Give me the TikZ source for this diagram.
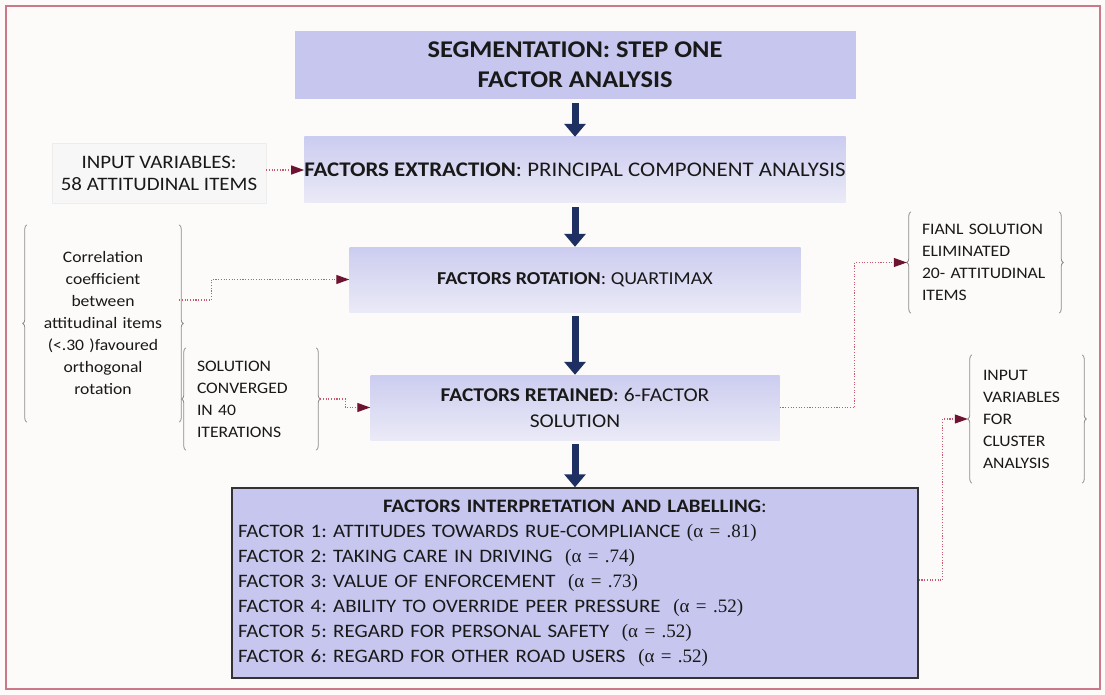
\documentclass[tikz,border=0pt]{standalone}
\usepackage{fontspec}
\setmainfont{Carlito}[FakeStretch=1.1]
\newfontfamily\serifalpha{Liberation Serif}
\usetikzlibrary{arrows.meta,decorations.pathreplacing}

\definecolor{pagebg}{RGB}{252,251,249}
\definecolor{framecol}{RGB}{205,120,135}
\definecolor{lav}{RGB}{198,198,238}
\definecolor{lavtop}{RGB}{204,204,240}
\definecolor{lavbot}{RGB}{234,234,247}
\definecolor{navy}{RGB}{30,48,98}
\definecolor{dotcol}{RGB}{200,90,110}
\definecolor{tipcol}{RGB}{110,20,50}
\definecolor{bracecol}{RGB}{140,140,140}
\definecolor{inkcol}{RGB}{25,25,25}

% Cronbach alpha value in a serif face
\newcommand{\ainfo}[1]{{\serifalpha(α = #1)}}
\frenchspacing

\begin{document}
\begin{tikzpicture}[x=1pt,y=-1pt,
  every node/.style={text=inkcol, inner sep=0pt},
  solidbox/.style={rectangle, fill=lav, align=center, font=\fontsize{24}{30}\selectfont},
  flowbox/.style={rectangle, top color=lavtop, bottom color=lavbot, align=center},
  inputbox/.style={rectangle, fill=white!97!black, draw=black!7, align=center,
    font=\fontsize{19}{22}\selectfont},
  interpbox/.style={rectangle, fill=lav, draw=black!80, line width=1.5pt,
    text width=674pt, inner xsep=6pt, align=left, minimum height=190pt,
    font=\fontsize{19}{25}\selectfont},
  bracketbox/.style={rectangle, inner xsep=11pt, font=\fontsize{16}{22}\selectfont},
  bracedraw/.style={bracecol, line width=0.8pt, decorate,
    decoration={brace, amplitude=4pt}},
  mainarrow/.style={navy, line width=7pt,
    -{Triangle[length=13pt,width=21pt]}, shorten <=4pt},
  dotlink/.style={dotcol, line width=1.1pt, dash pattern=on 1.1pt off 1.6pt,
    -{Triangle[length=13pt,width=9pt,color=tipcol]}}
]
\useasboundingbox (0,0) rectangle (1105,695);
\fill[pagebg] (0,0) rectangle (1105,695);
\draw[framecol, line width=1.2pt] (6,6) rectangle (1100,689);

% main column
\node[solidbox, minimum width=561pt, minimum height=68pt] (title) at (575,65)
  {\textbf{SEGMENTATION: STEP ONE}\\\textbf{FACTOR ANALYSIS}};
\node[flowbox, minimum width=538pt, minimum height=66pt,
  font=\fontsize{20.8}{26}\selectfont] (extract) at (575,170)
  {\textbf{FACTORS EXTRACTION}: PRINCIPAL COMPONENT ANALYSIS};
\node[flowbox, minimum width=451pt, minimum height=65pt,
  font=\fontsize{18.2}{26}\selectfont] (rotation) at (575,279.5)
  {\textbf{FACTORS ROTATION}: QUARTIMAX};
\node[flowbox, minimum width=409pt, minimum height=65pt,
  font=\fontsize{19.5}{26}\selectfont] (retained) at (575,407.5)
  {\textbf{FACTORS RETAINED}: 6-FACTOR\\SOLUTION};
\node[interpbox] (interp) at (575,583) {%
  {\centering\textbf{FACTORS INTERPRETATION AND LABELLING}:\par}
  FACTOR 1: ATTITUDES TOWARDS RUE-COMPLIANCE \ainfo{.81}\par
  FACTOR 2: TAKING CARE IN DRIVING\ \ \ainfo{.74}\par
  FACTOR 3: VALUE OF ENFORCEMENT\ \ \ainfo{.73}\par
  FACTOR 4: ABILITY TO OVERRIDE PEER PRESSURE\ \ \ainfo{.52}\par
  FACTOR 5: REGARD FOR PERSONAL SAFETY\ \ \ainfo{.52}\par
  FACTOR 6: REGARD FOR OTHER ROAD USERS\ \ \ainfo{.52}};

% side notes
\node[inputbox, minimum width=214pt, minimum height=60pt] (input) at (159,173)
  {INPUT VARIABLES:\\58 ATTITUDINAL ITEMS};
\node[bracketbox, text width=130pt, align=center, minimum height=197pt] (corr) at (103,323.5)
  {Correlation\\coefficient\\between\\attitudinal items\\(<.30 )favoured\\orthogonal\\rotation};
\node[bracketbox, text width=108pt, align=left, minimum height=102pt] (sol) at (251,399)
  {SOLUTION\\CONVERGED\\IN 40\\ITERATIONS};
\node[bracketbox, text width=126pt, align=left, minimum height=101pt] (fianl) at (985,262.5)
  {FIANL SOLUTION\\ELIMINATED\\\mbox{20- ATTITUDINAL}\\ITEMS};
\node[bracketbox, text width=88pt, align=left, minimum height=128pt] (cluster) at (1027,419)
  {INPUT\\VARIABLES\\FOR\\CLUSTER\\ANALYSIS};

% braces round the notes
\foreach \b in {corr,sol,fianl,cluster}{
  \draw[bracedraw] (\b.south west) -- (\b.north west);
  \draw[bracedraw] (\b.north east) -- (\b.south east);
}

% flow arrows
\draw[mainarrow] (title.south) -- (extract.north);
\draw[mainarrow] (extract.south) -- (rotation.north);
\draw[mainarrow] (rotation.south) -- (retained.north);
\draw[mainarrow] (retained.south) -- (interp.north);

% dotted links
\draw[dotlink] (input.east |- extract.west) -- (extract.west);
\draw[dotlink] ([yshift=23.5pt]corr.east) -- ++(32,0) |- (rotation.west);
\draw[dotlink] ([xshift=4pt]sol.east) -- ++(25,0) |- (retained.west);
\draw[dotlink] (retained.east) -- ++(75,0) |- ([xshift=-4pt]fianl.west);
\draw[dotlink] ([yshift=3pt]interp.east) -- ++(24,0) |- ([xshift=-4pt]cluster.west);
\end{tikzpicture}
\end{document}
